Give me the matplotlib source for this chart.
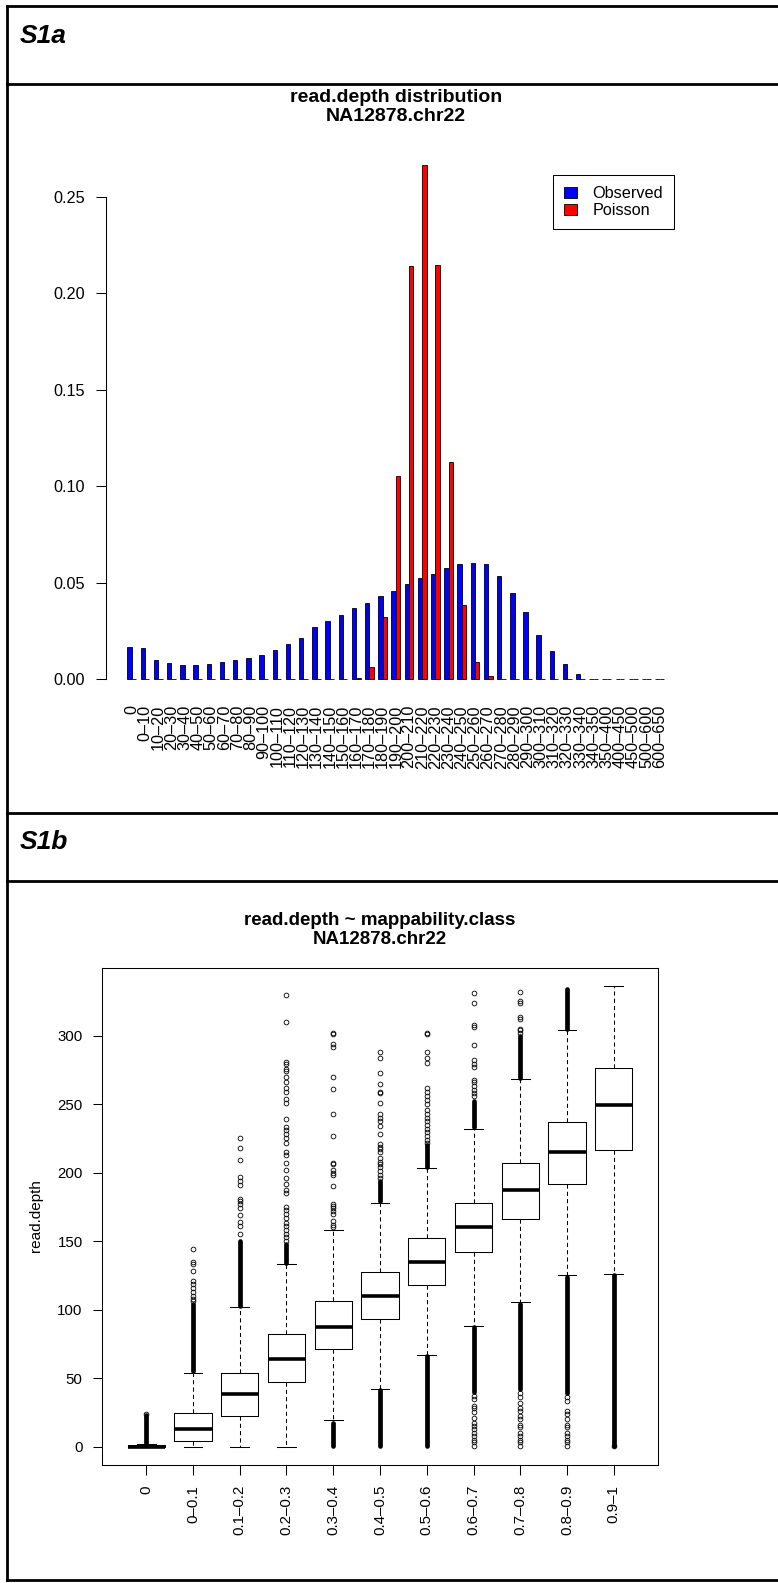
import matplotlib
matplotlib.use("Agg")
import matplotlib.pyplot as plt
from matplotlib.lines import Line2D
import numpy as np

plt.rcParams['font.family'] = ['Liberation Sans', 'DejaVu Sans']

# ---------------- data: panel S1a ----------------
depth_bins = ["0", "0–10", "10–20", "20–30", "30–40", "40–50", "50–60", "60–70",
              "70–80", "80–90", "90–100", "100–110", "110–120", "120–130", "130–140",
              "140–150", "150–160", "160–170", "170–180", "180–190", "190–200",
              "200–210", "210–220", "220–230", "230–240", "240–250", "250–260",
              "260–270", "270–280", "280–290", "290–300", "300–310", "310–320",
              "320–330", "330–340", "340–350", "350–400", "400–450", "450–500",
              "500–600", "600–650"]
observed = [0.0168, 0.0162, 0.0102, 0.0083, 0.0073, 0.0074, 0.0078, 0.0090, 0.0099,
            0.0109, 0.0126, 0.0150, 0.0181, 0.0216, 0.0270, 0.0304, 0.0335, 0.0368,
            0.0394, 0.0434, 0.0458, 0.0493, 0.0527, 0.0548, 0.0575, 0.0596, 0.0603,
            0.0598, 0.0537, 0.0448, 0.0347, 0.0232, 0.0147, 0.0081, 0.0028,
            0.0, 0.0, 0.0, 0.0, 0.0, 0.0]
poisson = [0.0, 0.0, 0.0, 0.0, 0.0, 0.0, 0.0, 0.0, 0.0, 0.0, 0.0, 0.0, 0.0, 0.0, 0.0,
           0.0, 0.0, 0.0007, 0.0062, 0.0321, 0.1052, 0.2141, 0.2666, 0.2146, 0.1125,
           0.0384, 0.0090, 0.0016, 0.0, 0.0, 0.0, 0.0, 0.0, 0.0, 0.0,
           0.0, 0.0, 0.0, 0.0, 0.0, 0.0]
y_ticks_a = [0.00, 0.05, 0.10, 0.15, 0.20, 0.25]

# ---------------- data: panel S1b ----------------
map_classes = ["0", "0–0.1", "0.1–0.2", "0.2–0.3", "0.3–0.4", "0.4–0.5",
               "0.5–0.6", "0.6–0.7", "0.7–0.8", "0.8–0.9", "0.9–1"]
box_q1 = [0, 4.1, 22.1, 47.2, 71.0, 93.2, 118.2, 142.1, 166.2, 192.0, 216.3]
box_med = [0, 13.1, 38.2, 64.2, 87.1, 110.2, 135.0, 160.1, 187.3, 215.1, 249.4]
box_q3 = [1, 24.3, 54.0, 82.2, 106.3, 127.3, 152.3, 178.1, 207.3, 237.2, 276.4]
whisker_lo = [0, 0, 0, 0, 19.2, 42.3, 67.2, 88.3, 105.4, 125.3, 126.3]
whisker_hi = [2, 54.0, 102.2, 133.6, 158.2, 178.1, 203.2, 232.1, 268.3, 304.4, 336.0]
outliers = [
    [24],
    [106, 108, 110, 113, 116, 119, 121, 128, 133, 135, 144],
    [155, 161, 164, 169, 174, 177, 179, 181, 191, 194, 197, 209, 218, 225],
    [150, 153, 155, 158, 161, 163, 167, 170, 173, 175, 185, 187, 192, 196, 202, 207,
     213, 215, 222, 225, 228, 231, 233, 239, 251, 254, 259, 262, 266, 270, 274, 276,
     279, 281, 310, 330],
    [160, 162, 165, 170, 172, 174, 176, 177, 190, 198, 200, 202, 206, 207, 227, 243,
     261, 270, 292, 294, 301, 302],
    [196, 198, 201, 204, 206, 208, 211, 215, 217, 219, 221, 228, 234, 238, 240, 243,
     251, 258, 259, 265, 273, 284, 288],
    [222, 224, 227, 230, 232, 235, 238, 240, 243, 246, 250, 253, 256, 259, 262, 280,
     284, 288, 301, 302],
    [256, 258, 260, 263, 266, 268, 277, 279, 282, 293, 306, 308, 324, 331,
     0.5, 3, 5, 8, 10, 13, 15, 17.5, 21, 25, 28, 30, 34.5, 37],
    [302, 304, 305, 312, 314, 324, 325, 332,
     0.5, 3, 5, 8, 10, 14, 16, 20, 22, 26, 28.5, 32, 36, 39],
    [0.5, 3, 5, 8, 10, 14, 16, 20, 24, 26, 33, 36],
    [0.5],
]
# ranges where outlier circles overlap into a solid column
dense_outlier_ranges = [
    [(2, 23)],
    [(55, 104)],
    [(103, 150)],
    [(134, 148)],
    [(0.5, 17)],
    [(179, 194), (0.5, 41)],
    [(204, 220), (0.5, 66)],
    [(233, 252), (40, 87)],
    [(269, 300), (42, 104)],
    [(305, 334), (39, 124)],
    [(0.5, 125)],
]
y_ticks_b = [0, 50, 100, 150, 200, 250, 300]

# ---------------- figure ----------------
W, H = 778, 1583
fig = plt.figure(figsize=(W / 100, H / 100), dpi=100)


def ax_px(l, t, r, b):
    return fig.add_axes([l / W, 1 - b / H, (r - l) / W, (b - t) / H])


def hline(y, x0=7, x1=W):
    fig.add_artist(Line2D([x0 / W, x1 / W], [1 - y / H, 1 - y / H],
                          transform=fig.transFigure, color='black', lw=2))


def vline(x, y0, y1):
    fig.add_artist(Line2D([x / W, x / W], [1 - y0 / H, 1 - y1 / H],
                          transform=fig.transFigure, color='black', lw=2))


# frame
hline(6)
hline(84)
hline(813)
hline(881)
hline(1580)
vline(7, 6, 1580)

fig.text(20 / W, 1 - 36 / H, "S1a", fontsize=19, fontweight='bold',
         fontstyle='italic', ha='left', va='center')
fig.text(20 / W, 1 - 842 / H, "S1b", fontsize=19, fontweight='bold',
         fontstyle='italic', ha='left', va='center')

# ---------------- panel a: barplot ----------------
ax1 = ax_px(106, 144.4, 685.5, 699.9)
n = len(depth_bins)
grp = np.arange(n)
x_blue = 1 + 3 * grp
x_red = 2 + 3 * grp
ax1.bar(x_blue, observed, width=1, align='edge', color='#0000FF',
        edgecolor='black', linewidth=0.6, label='Observed')
ax1.bar(x_red, poisson, width=1, align='edge', color='#FF0000',
        edgecolor='black', linewidth=0.6, label='Poisson')
xmax = 3 * n
ax1.set_xlim(1 - 0.04 * (xmax - 1), xmax + 0.04 * (xmax - 1))
ymax = max(max(observed), max(poisson))
ax1.set_ylim(-0.04 * ymax, ymax * 1.04)
for s in ['top', 'right', 'bottom']:
    ax1.spines[s].set_visible(False)
ax1.spines['left'].set_bounds(y_ticks_a[0], y_ticks_a[-1])
ax1.spines['left'].set_linewidth(0.75)
ax1.set_yticks(y_ticks_a)
ax1.set_yticklabels([f"{v:.2f}" for v in y_ticks_a])
ax1.tick_params(axis='y', length=7, width=0.75, pad=7.9, labelsize=11.7)
ax1.set_xticks(x_red)
ax1.set_xticklabels(depth_bins, rotation=90, va='top', ha='center')
ax1.tick_params(axis='x', length=0, pad=3.7, labelsize=11.7)
ax1.patch.set_visible(False)

leg = ax1.legend(loc='upper left', bbox_to_anchor=(552.7 / W, 1 - 175 / H),
                 bbox_transform=fig.transFigure, borderaxespad=0,
                 fancybox=False, edgecolor='black', framealpha=1,
                 fontsize=11.7, handlelength=0.8, handleheight=0.68,
                 handletextpad=0.94, borderpad=0.7, labelspacing=0.1)
leg.get_frame().set_linewidth(0.75)

fig.text(395.8 / W, 1 - 107 / H, "read.depth distribution\nNA12878.chr22",
         fontsize=14, fontweight='bold', ha='center', va='center', linespacing=1.2)

# ---------------- panel b: boxplot ----------------
ax2 = ax_px(102.3, 968, 657.7, 1465)
stats = []
for i in range(len(map_classes)):
    stats.append(dict(med=box_med[i], q1=box_q1[i], q3=box_q3[i],
                      whislo=whisker_lo[i], whishi=whisker_hi[i],
                      fliers=outliers[i], label=map_classes[i]))
pos = np.arange(1, len(map_classes) + 1)
ax2.bxp(stats, positions=pos, widths=0.8, capwidths=0.4, showfliers=True,
        boxprops=dict(color='black', lw=0.75),
        whiskerprops=dict(color='black', lw=0.75, linestyle=(0, (4, 3))),
        capprops=dict(color='black', lw=0.75),
        medianprops=dict(color='black', lw=2.6, solid_capstyle='butt'),
        flierprops=dict(marker='o', markerfacecolor='none', markeredgecolor='black',
                        markersize=3.4, markeredgewidth=0.6, linestyle='none'))
for i, ranges in enumerate(dense_outlier_ranges):
    for lo, hi in ranges:
        ax2.vlines(pos[i], lo, hi, color='black', lw=3.4, capstyle='round')

bmax = max(whisker_hi)
ax2.set_xlim(0.5 - 0.04 * 11, 11.5 + 0.04 * 11)
ax2.set_ylim(-0.04 * bmax, bmax * 1.04)
ax2.set_yticks(y_ticks_b)
ax2.set_yticklabels([str(v) for v in y_ticks_b])
ax2.tick_params(axis='y', length=6.7, width=0.75, pad=7.4, labelsize=10.8)
ax2.set_xticks(pos)
ax2.set_xticklabels(map_classes, rotation=90, va='top', ha='center')
ax2.tick_params(axis='x', length=7.2, width=0.75, pad=7.2, labelsize=10.8)
for s in ax2.spines.values():
    s.set_linewidth(0.75)

fig.text(380 / W, 1 - 930 / H, "read.depth ~ mappability.class\nNA12878.chr22",
         fontsize=13.5, fontweight='bold', ha='center', va='center', linespacing=1.2)
fig.text(36 / W, 1 - 1216 / H, "read.depth", rotation=90, fontsize=11,
         ha='center', va='center')

fig.savefig("out.png", dpi=100)
